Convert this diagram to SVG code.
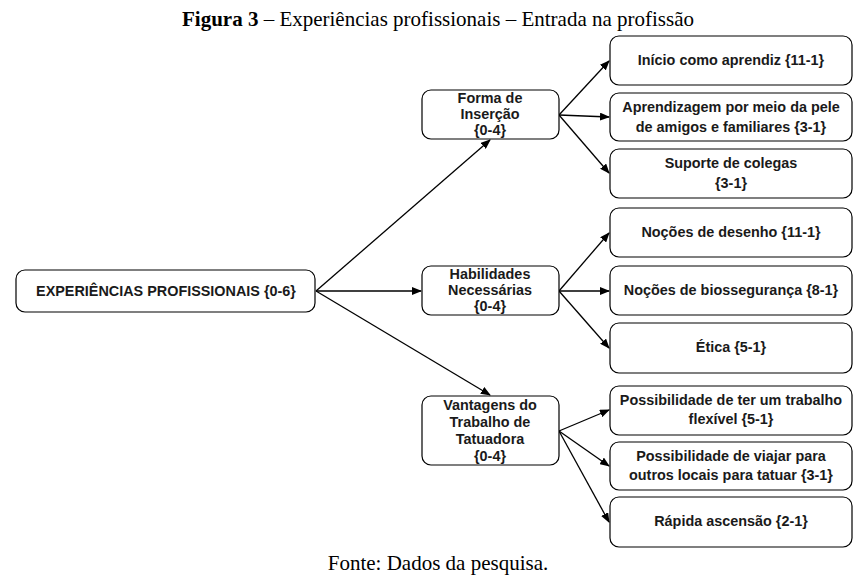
<svg xmlns="http://www.w3.org/2000/svg" width="860" height="581" viewBox="0 0 860 581">
<defs>
<marker id="ah" markerWidth="10" markerHeight="8" refX="9" refY="4" orient="auto" markerUnits="userSpaceOnUse">
<path d="M0,0 L10,4 L0,8 Z" fill="#000"/>
</marker>
<style>
.box{fill:#fff;stroke:#000;stroke-width:1.2}
.t{font-family:"Liberation Sans",Arial,sans-serif;font-weight:bold;font-size:14.4px;fill:#1a1a1a;text-anchor:middle}
.c{stroke:#000;stroke-width:1.3;fill:none;marker-end:url(#ah)}
.cap{font-family:"Liberation Serif","Times New Roman",serif;font-size:21px;fill:#000;text-anchor:middle}
</style>
</defs>
<rect width="860" height="581" fill="#fff"/>
<text class="cap" x="438" y="26"><tspan font-weight="bold">Figura 3</tspan> – Experiências profissionais – Entrada na profissão</text>
<text class="cap" x="438" y="570">Fonte: Dados da pesquisa.</text>
<g id="connectors">
<line class="c" x1="316" y1="291" x2="490" y2="140"/>
<line class="c" x1="316" y1="291" x2="421" y2="291"/>
<line class="c" x1="316" y1="291" x2="490" y2="395"/>
<line class="c" x1="559" y1="115" x2="609" y2="61"/>
<line class="c" x1="559" y1="115" x2="609" y2="117"/>
<line class="c" x1="559" y1="115" x2="609" y2="173"/>
<line class="c" x1="559" y1="291" x2="609" y2="233"/>
<line class="c" x1="559" y1="291" x2="609" y2="291"/>
<line class="c" x1="559" y1="291" x2="609" y2="348"/>
<line class="c" x1="559" y1="431" x2="609" y2="410"/>
<line class="c" x1="559" y1="431" x2="609" y2="466"/>
<line class="c" x1="559" y1="431" x2="609" y2="522"/>
</g>
<g id="n0"><rect class="box" x="16" y="270" width="299" height="42" rx="9"/><text class="t" x="166" y="296">EXPERIÊNCIAS PROFISSIONAIS {0-6}</text></g>
<g id="n1"><rect class="box" x="422" y="90" width="137" height="49" rx="9"/><text class="t" x="490" y="103">Forma de</text><text class="t" x="490" y="119">Inserção</text><text class="t" x="490" y="135">{0-4}</text></g>
<g id="n2"><rect class="box" x="422" y="266" width="137" height="49" rx="9"/><text class="t" x="490" y="279">Habilidades</text><text class="t" x="490" y="295">Necessárias</text><text class="t" x="490" y="311">{0-4}</text></g>
<g id="n3"><rect class="box" x="422" y="396" width="137" height="69" rx="9"/><text class="t" x="490" y="410">Vantagens do</text><text class="t" x="490" y="427">Trabalho de</text><text class="t" x="490" y="444">Tatuadora</text><text class="t" x="490" y="461">{0-4}</text></g>
<g id="n4"><rect class="box" x="610" y="36" width="242" height="49" rx="9"/><text class="t" x="731" y="65">Início como aprendiz {11-1}</text></g>
<g id="n5"><rect class="box" x="610" y="93" width="242" height="48" rx="9"/><text class="t" x="731" y="112">Aprendizagem por meio da pele</text><text class="t" x="731" y="132">de amigos e familiares {3-1}</text></g>
<g id="n6"><rect class="box" x="610" y="149" width="242" height="49" rx="9"/><text class="t" x="731" y="168">Suporte de colegas</text><text class="t" x="731" y="188">{3-1}</text></g>
<g id="n7"><rect class="box" x="610" y="208" width="242" height="49" rx="9"/><text class="t" x="731" y="237">Noções de desenho {11-1}</text></g>
<g id="n8"><rect class="box" x="610" y="266" width="242" height="49" rx="9"/><text class="t" x="731" y="295">Noções de biossegurança {8-1}</text></g>
<g id="n9"><rect class="box" x="610" y="323" width="242" height="50" rx="9"/><text class="t" x="731" y="352">Ética {5-1}</text></g>
<g id="n10"><rect class="box" x="610" y="386" width="242" height="49" rx="9"/><text class="t" x="731" y="405">Possibilidade de ter um trabalho</text><text class="t" x="731" y="424">flexível {5-1}</text></g>
<g id="n11"><rect class="box" x="610" y="442" width="242" height="48" rx="9"/><text class="t" x="731" y="461">Possibilidade de viajar para</text><text class="t" x="731" y="480">outros locais para tatuar {3-1}</text></g>
<g id="n12"><rect class="box" x="610" y="497" width="242" height="50" rx="9"/><text class="t" x="731" y="526">Rápida ascensão {2-1}</text></g>
</svg>
